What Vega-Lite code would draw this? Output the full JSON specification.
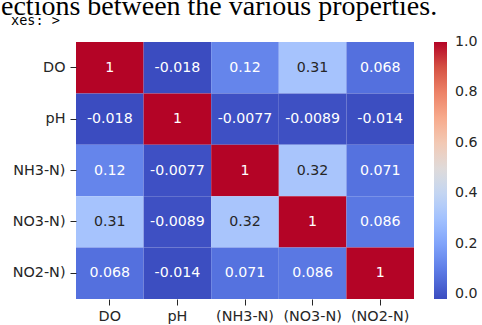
{
  "$schema": "https://vega.github.io/schema/vega-lite/v6.json",
  "autosize": {"type": "none"},
  "padding": {"left": 76, "top": 42, "right": 68, "bottom": 26},
  "width": 338,
  "height": 257,
  "background": "white",
  "title": {
    "text": "ections between the various properties.",
    "subtitle": "\u2800xes: >",
    "anchor": "start",
    "frame": "group",
    "font": "Liberation Serif",
    "fontSize": 28,
    "fontWeight": "normal",
    "color": "black",
    "subtitleFont": "DejaVu Sans Mono",
    "subtitleFontSize": 13.5,
    "subtitleColor": "black",
    "subtitlePadding": -7,
    "dx": -75,
    "offset": 15
  },
  "data": {
    "values": [
      {"col": "DO", "row": "DO", "r": 1},
      {"col": "pH", "row": "DO", "r": -0.018},
      {"col": "(NH3-N)", "row": "DO", "r": 0.12},
      {"col": "(NO3-N)", "row": "DO", "r": 0.31},
      {"col": "(NO2-N)", "row": "DO", "r": 0.068},
      {"col": "DO", "row": "pH", "r": -0.018},
      {"col": "pH", "row": "pH", "r": 1},
      {"col": "(NH3-N)", "row": "pH", "r": -0.0077},
      {"col": "(NO3-N)", "row": "pH", "r": -0.0089},
      {"col": "(NO2-N)", "row": "pH", "r": -0.014},
      {"col": "DO", "row": "NH3-N)", "r": 0.12},
      {"col": "pH", "row": "NH3-N)", "r": -0.0077},
      {"col": "(NH3-N)", "row": "NH3-N)", "r": 1},
      {"col": "(NO3-N)", "row": "NH3-N)", "r": 0.32},
      {"col": "(NO2-N)", "row": "NH3-N)", "r": 0.071},
      {"col": "DO", "row": "NO3-N)", "r": 0.31},
      {"col": "pH", "row": "NO3-N)", "r": -0.0089},
      {"col": "(NH3-N)", "row": "NO3-N)", "r": 0.32},
      {"col": "(NO3-N)", "row": "NO3-N)", "r": 1},
      {"col": "(NO2-N)", "row": "NO3-N)", "r": 0.086},
      {"col": "DO", "row": "NO2-N)", "r": 0.068},
      {"col": "pH", "row": "NO2-N)", "r": -0.014},
      {"col": "(NH3-N)", "row": "NO2-N)", "r": 0.071},
      {"col": "(NO3-N)", "row": "NO2-N)", "r": 0.086},
      {"col": "(NO2-N)", "row": "NO2-N)", "r": 1}
    ]
  },
  "encoding": {
    "x": {
      "field": "col", "type": "nominal",
      "sort": ["DO", "pH", "(NH3-N)", "(NO3-N)", "(NO2-N)"],
      "scale": {"paddingInner": 0, "paddingOuter": 0},
      "axis": {"title": null, "labelAngle": 0, "domain": false, "grid": false, "tickSize": 6, "labelPadding": 4, "tickColor": "#262626", "tickWidth": 1}
    },
    "y": {
      "field": "row", "type": "nominal",
      "sort": ["DO", "pH", "NH3-N)", "NO3-N)", "NO2-N)"],
      "scale": {"paddingInner": 0, "paddingOuter": 0},
      "axis": {"title": null, "domain": false, "grid": false, "tickSize": 6, "labelPadding": 5, "tickColor": "#262626", "tickWidth": 1}
    }
  },
  "layer": [
    {
      "mark": {"type": "rect"},
      "encoding": {
        "color": {
          "field": "r", "type": "quantitative",
          "scale": {
            "domain": [-0.018, 0.0838, 0.1856, 0.2874, 0.3892, 0.491, 0.5928, 0.6946, 0.7964, 0.8982, 1.0],
            "range": ["#3b4cc0", "#5977e3", "#7b9ff9", "#9ebeff", "#c0d4f5", "#dddcdc", "#f2cbb7", "#f7ac8e", "#ee8468", "#d65244", "#b40426"],
            "interpolate": "rgb"
          },
          "legend": {
            "title": null,
            "orient": "right",
            "offset": 20,
            "gradientLength": 257,
            "gradientThickness": 13,
            "gradientStrokeWidth": 0,
            "values": [0, 0.2, 0.4, 0.6, 0.8, 1.0],
            "format": ".1f",
            "labelOffset": 8,
            "labelOverlap": false,
            "encode": {
              "labels": {"update": {"baseline": {"value": "middle"}}}
            }
          }
        }
      }
    },
    {
      "mark": {"type": "text", "font": "DejaVu Sans", "fontSize": 14.2, "baseline": "middle"},
      "encoding": {
        "text": {"field": "r", "type": "quantitative", "format": ".2~g"},
        "color": {
          "condition": {"test": "datum.r > 0.25 && datum.r < 0.75", "value": "#262626"},
          "value": "white"
        }
      }
    }
  ],
  "config": {
    "locale": {
      "number": {"decimal": ".", "thousands": ",", "grouping": [3], "currency": ["$", ""], "minus": "-"}
    },
    "view": {"stroke": null},
    "axis": {"labelFont": "DejaVu Sans", "labelFontSize": 14.4, "labelColor": "#262626"},
    "legend": {"labelFont": "DejaVu Sans", "labelFontSize": 14.2, "labelColor": "#262626"}
  }
}
